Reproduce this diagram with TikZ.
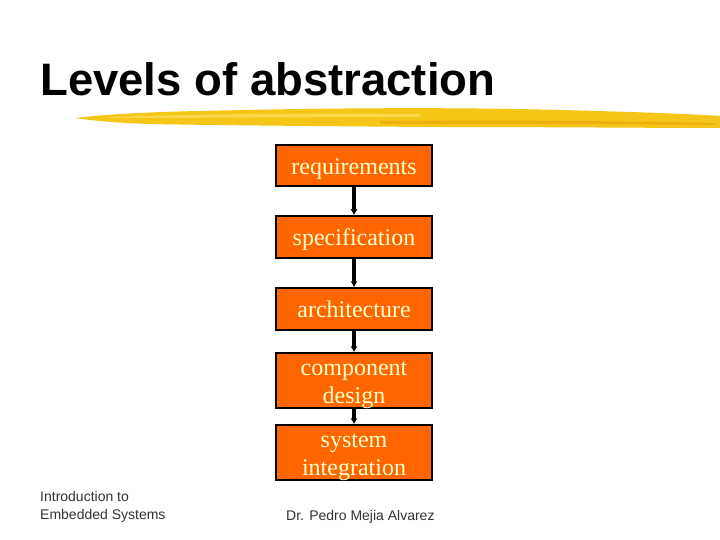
\documentclass[tikz,border=0pt]{standalone}
\usepackage{fontspec}
\setmainfont{Liberation Serif}
\newfontfamily\arialfont{Liberation Sans}
\usetikzlibrary{arrows.meta}
\definecolor{boxorange}{HTML}{FF6600}
\definecolor{boxtext}{HTML}{FFFFCC}
\definecolor{brushA}{HTML}{F5C518}
\definecolor{brushB}{HTML}{F9D64A}
\definecolor{brushC}{HTML}{EEB00E}
\definecolor{footgray}{HTML}{333333}
\begin{document}
\begin{tikzpicture}[x=1pt,y=-1pt,
  levelbox/.style={draw=black,line width=1.5pt,fill=boxorange,
    minimum width=156pt,inner sep=0pt},
  boxlabel/.style={anchor=base,inner sep=0pt,text=boxtext,
    font=\fontsize{24}{28}\selectfont},
  flowarrow/.style={draw=black,line width=3.5pt,-{Latex[length=6pt,width=7pt]}}
]
\useasboundingbox (0,0) rectangle (720,540);
\fill[white] (0,0) rectangle (720,540);
% title
\node[anchor=base west,inner sep=0pt,font=\arialfont\bfseries\fontsize{45.5}{50}\selectfont] (title) at (40,96) {Levels of abstraction};
% brush stroke
\fill[brushA] (75,118) .. controls (110,114) and (150,112) .. (200,111)
  .. controls (320,108) and (450,107) .. (560,110)
  .. controls (640,112) and (690,114) .. (720,116)
  -- (720,128)
  .. controls (650,128) and (560,127) .. (430,127)
  .. controls (300,126) and (200,125) .. (150,124)
  .. controls (120,123) and (95,121) .. (75,118) -- cycle;
\fill[brushB] (110,117) .. controls (200,114) and (300,113) .. (420,114)
  -- (420,117) .. controls (300,117) and (200,118) .. (110,118) -- cycle;
\fill[brushC] (380,121) .. controls (500,120) and (620,121) .. (715,123)
  -- (715,125) .. controls (620,124) and (500,124) .. (380,124) -- cycle;
% boxes
\node[levelbox,minimum height=41pt] (req) at (354,165.5) {};
\node[levelbox,minimum height=42pt] (spec) at (354,237) {};
\node[levelbox,minimum height=42pt] (arch) at (354,309) {};
\node[levelbox,minimum height=55pt] (comp) at (354,380.5) {};
\node[levelbox,minimum height=55pt] (sys) at (354,452.5) {};
% labels
\node[boxlabel] (reqt) at (354,175) {requirements};
\node[boxlabel] (spect) at (354,245) {specification};
\node[boxlabel] (archt) at (354,317) {architecture};
\node[boxlabel] (compt1) at (354,375) {component};
\node[boxlabel] (compt2) at (354,403) {design};
\node[boxlabel] (syst1) at (354,447) {system};
\node[boxlabel] (syst2) at (354,475) {integration};
% arrows
\draw[flowarrow] (req.south) -- (spec.north);
\draw[flowarrow] (spec.south) -- (arch.north);
\draw[flowarrow] (arch.south) -- (comp.north);
\draw[flowarrow] (comp.south) -- (sys.north);
% footer
\node[anchor=north west,inner sep=0pt,align=left,text=footgray,
  font=\arialfont\fontsize{14}{18}\selectfont] (intro) at (40,491) {Introduction to\\Embedded Systems};
\node[anchor=base west,inner sep=0pt,text=footgray,
  font=\arialfont\fontsize{14}{17}\selectfont] (author) at (286,520) {Dr. Pedro Mejia Alvarez};
\end{tikzpicture}
\end{document}
